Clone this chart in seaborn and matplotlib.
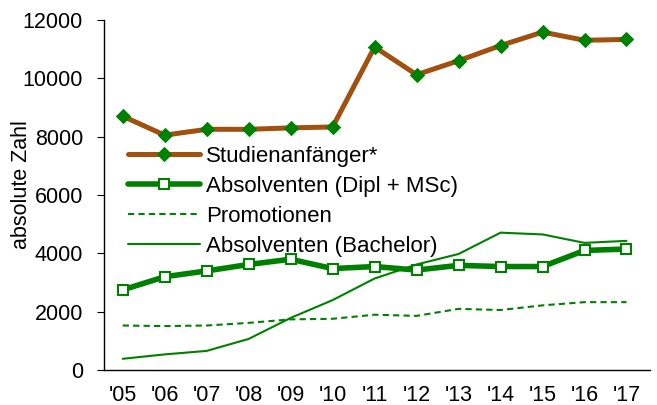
import matplotlib
matplotlib.use("Agg")
import matplotlib.pyplot as plt
import pandas as pd
import seaborn as sns

years = ["'05", "'06", "'07", "'08", "'09", "'10", "'11", "'12", "'13", "'14", "'15", "'16", "'17"]
studienanfaenger = [8700, 8050, 8250, 8250, 8300, 8330, 11070, 10120, 10600, 11120, 11580, 11300, 11330]
absolventen_dipl_msc = [2750, 3200, 3400, 3620, 3800, 3480, 3550, 3430, 3590, 3550, 3550, 4100, 4150]
promotionen = [1530, 1510, 1530, 1620, 1740, 1760, 1900, 1860, 2100, 2060, 2220, 2330, 2330]
absolventen_bachelor = [390, 540, 660, 1070, 1790, 2400, 3140, 3620, 3980, 4710, 4650, 4360, 4430]

sns.set_theme(style="ticks", rc={"text.color": "black", "axes.labelcolor": "black",
                                 "xtick.color": "black", "ytick.color": "black"})
plt.rcParams["font.family"] = ["Liberation Sans", "DejaVu Sans"]

df = pd.DataFrame({
    "x": list(range(len(years))),
    "studienanfaenger": studienanfaenger,
    "dipl": absolventen_dipl_msc,
    "promo": promotionen,
    "bachelor": absolventen_bachelor,
})

brown = "#A0500F"
green = "#008000"

fig = plt.figure(figsize=(6.57, 4.05), dpi=100)
ax = fig.add_axes([0.158, 0.086, 0.832, 0.865])

sns.lineplot(data=df, x="x", y="studienanfaenger", ax=ax, color=brown, linewidth=3.6,
             marker="D", markersize=7.5, markerfacecolor=green, markeredgecolor=green,
             label="Studienanfänger*")
sns.lineplot(data=df, x="x", y="dipl", ax=ax, color=green, linewidth=4,
             marker="s", markersize=7, markerfacecolor="white", markeredgecolor=green,
             markeredgewidth=1.5, label="Absolventen (Dipl + MSc)")
sns.lineplot(data=df, x="x", y="promo", ax=ax, color=green, linewidth=1.5,
             linestyle=(0, (3, 2)), label="Promotionen")
sns.lineplot(data=df, x="x", y="bachelor", ax=ax, color=green, linewidth=1.5,
             label="Absolventen (Bachelor)")

ax.set_xlim(-0.45, 12.57)
ax.set_ylim(0, 12000)
ax.set_yticks(range(0, 12001, 2000))
ax.set_xticks(range(len(years)))
ax.set_xticklabels(years)
ax.tick_params(axis="x", length=0, labelsize=15.5, pad=11)
ax.tick_params(axis="y", length=5, width=0.8, labelsize=15.5, pad=10,
               direction="out", color="black")
ax.set_xlabel("")
ax.set_ylabel("absolute Zahl", fontsize=15.5)
ax.yaxis.set_label_coords(-0.132, 0.529)
for s in ["top", "right"]:
    ax.spines[s].set_visible(False)
for s in ["left", "bottom"]:
    ax.spines[s].set_color("black")
    ax.spines[s].set_linewidth(1)

ax.legend(loc="upper left", bbox_to_anchor=(0.045, 0.64), frameon=False, fontsize=16,
          handlelength=3.2, handletextpad=0.3, labelspacing=0.4,
          borderaxespad=0, borderpad=0)

fig.savefig("out.png", dpi=100)
